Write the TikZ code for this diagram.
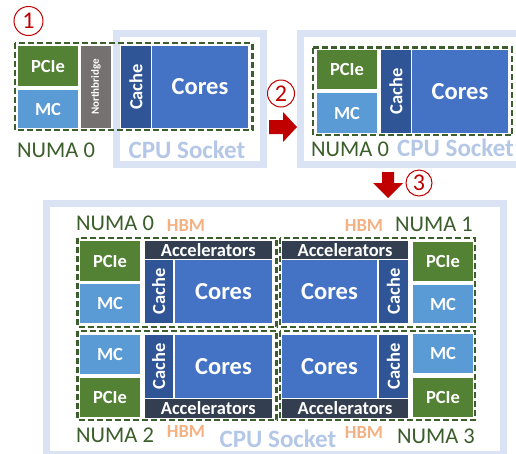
\documentclass[tikz,border=0pt]{standalone}
\usepackage{fontspec}
\setmainfont{Carlito}
\usepackage{tikz}
\definecolor{pcie green}{HTML}{548235}
\definecolor{mc blue}{HTML}{5B9BD5}
\definecolor{cache blue}{HTML}{2F5597}
\definecolor{cores blue}{HTML}{4472C4}
\definecolor{acc slate}{HTML}{333F50}
\definecolor{nb gray}{HTML}{767171}
\definecolor{numa green}{HTML}{3B5E2B}
\definecolor{socket frame}{HTML}{DAE3F3}
\definecolor{socket text}{HTML}{B4C7E7}
\definecolor{hbm orange}{HTML}{F4B183}
\definecolor{step red}{HTML}{C00000}
\tikzset{
  socket/.style={draw=socket frame, line width=7pt},
  numabox/.style={draw=numa green, line width=2.4pt, dash pattern=on 6pt off 3pt},
  unit/.style={text=white, inner sep=0pt, font=\bfseries\fontsize{18.5}{18.5}\selectfont},
  bigunit/.style={unit, font=\bfseries\fontsize{24.5}{24.5}\selectfont},
  tinyunit/.style={unit, font=\bfseries\fontsize{11}{11}\selectfont},
  numa/.style={text=numa green, inner sep=0pt, font=\fontsize{22.5}{22.5}\selectfont},
  hbm/.style={text=hbm orange, inner sep=0pt, font=\bfseries\fontsize{18.5}{18.5}\selectfont},
  sockettext/.style={text=socket text, inner sep=0pt, font=\bfseries\fontsize{25}{25}\selectfont},
  stepmark/.style={circle, draw=step red, text=step red, line width=1pt, inner sep=0pt,
    minimum size=27pt, font=\fontsize{24}{24}\selectfont}
}

\begin{document}
\begin{tikzpicture}[x=1pt, y=-1pt]
			\clip (0,0) rectangle (516,453);
			% socket frames
			\draw[socket] (116.5,33.5) rectangle (263.5,164.5);
			\draw[socket] (300.5,33.5) rectangle (530,164.5);
			\draw[socket] (46.5,203.5) rectangle (503.5,454.5);
			% northbridge outside the socket
			\begin{scope}
				\fill[pcie green] (18,46) rectangle node[unit] (pcie1) {PCIe} (78,86);
				\fill[mc blue] (18,90) rectangle node[unit] (mc1) {MC} (78,128);
				\fill[nb gray] (81,46) rectangle node[tinyunit, rotate=90] (nb1) {Northbridge} (111,128);
				\fill[cache blue] (121,46) rectangle node[unit, rotate=90] (cache1) {Cache} (151,128);
				\fill[cores blue] (152,46) rectangle node[bigunit] (cores1) {Cores} (248,128);
				\draw[numabox] (15,43) rectangle (252.5,130);
			\end{scope}
			% everything on the socket
			\begin{scope}
				\fill[pcie green] (317,50) rectangle node[unit] (pcie2) {PCIe} (377,89);
				\fill[mc blue] (317,93) rectangle node[unit] (mc2) {MC} (377,133);
				\fill[cache blue] (381,50) rectangle node[unit, rotate=90] (cache2) {Cache} (411,133);
				\fill[cores blue] (412,50) rectangle node[bigunit] (cores2) {Cores} (508,133);
				\draw[numabox] (313,47.5) rectangle (512,135);
			\end{scope}
			% four NUMA nodes with HBM
			\begin{scope}
				\fill[pcie green] (80,241) rectangle node[unit] (pcie30) {PCIe} (140,281);
				\fill[mc blue] (80,284) rectangle node[unit] (mc30) {MC} (140,323);
				\fill[acc slate] (144.5,241) rectangle node[unit] (acc30) {Accelerators} (272,259);
				\fill[cache blue] (144.5,260) rectangle node[unit, rotate=90] (cache30) {Cache} (173,323);
				\fill[cores blue] (175,260) rectangle node[bigunit] (cores30) {Cores} (272,323);
				\draw[numabox] (77.5,238) rectangle (276.5,327);

				\fill[acc slate] (282,241) rectangle node[unit] (acc31) {Accelerators} (408,259);
				\fill[cores blue] (282,260) rectangle node[bigunit] (cores31) {Cores} (377,323);
				\fill[cache blue] (379,260) rectangle node[unit, rotate=90] (cache31) {Cache} (408,323);
				\fill[pcie green] (413,242) rectangle node[unit] (pcie31) {PCIe} (473,281);
				\fill[mc blue] (413,285) rectangle node[unit] (mc31) {MC} (473,323);
				\draw[numabox] (280,238) rectangle (475,327);

				\fill[mc blue] (80,335) rectangle node[unit] (mc32) {MC} (140,374);
				\fill[pcie green] (80,378) rectangle node[unit] (pcie32) {PCIe} (140,417);
				\fill[cache blue] (144.5,335) rectangle node[unit, rotate=90] (cache32) {Cache} (173,398);
				\fill[cores blue] (175,335) rectangle node[bigunit] (cores32) {Cores} (272,398);
				\fill[acc slate] (144.5,399) rectangle node[unit] (acc32) {Accelerators} (272,418);
				\draw[numabox] (77.5,331) rectangle (276.5,420);

				\fill[cores blue] (282,335) rectangle node[bigunit] (cores33) {Cores} (377,398);
				\fill[cache blue] (379,335) rectangle node[unit, rotate=90] (cache33) {Cache} (408,398);
				\fill[acc slate] (282,399) rectangle node[unit] (acc33) {Accelerators} (408,418);
				\fill[mc blue] (413,334) rectangle node[unit] (mc33) {MC} (473,373);
				\fill[pcie green] (413,378) rectangle node[unit] (pcie33) {PCIe} (473,417);
				\draw[numabox] (280,331) rectangle (475,420);
			\end{scope}
			% labels
			\node[numa, anchor=base west] (numa1) at (17,157) {NUMA 0};
			\node[sockettext, anchor=base] (sock1) at (187,158) {CPU Socket};
			\node[numa, anchor=base west] (numa2) at (311,156) {NUMA 0};
			\node[sockettext, anchor=base west] (sock2) at (397,156) {CPU Socket};
			\node[numa, anchor=base west] (numa30) at (76,230) {NUMA 0};
			\node[hbm, anchor=base] (hbm30) at (186,231) {HBM};
			\node[numa, anchor=base east] (numa31) at (473,231) {NUMA 1};
			\node[hbm, anchor=base] (hbm31) at (364,231) {HBM};
			\node[numa, anchor=base west] (numa32) at (76,442) {NUMA 2};
			\node[hbm, anchor=base] (hbm32) at (186,437) {HBM};
			\node[numa, anchor=base east] (numa33) at (475,443) {NUMA 3};
			\node[hbm, anchor=base] (hbm33) at (364,438) {HBM};
			\node[sockettext, anchor=base] (sock3) at (278,447) {CPU Socket};
			% steps
			\node[stepmark, minimum size=29pt] (step1) at (28.5,21) {1};
			\node[stepmark] (step2) at (281,93.5) {2};
			\node[stepmark, minimum size=26pt] (step3) at (419,183) {3};
			\fill[step red] (269,120) -- (283,120) -- (283,112) -- (297,127)
				-- (283,142) -- (283,134) -- (269,134) -- cycle;
			\fill[step red] (382,172) -- (394,172) -- (394,183) -- (403,183)
				-- (388,198) -- (373,183) -- (382,183) -- cycle;
		\end{tikzpicture}
\end{document}
